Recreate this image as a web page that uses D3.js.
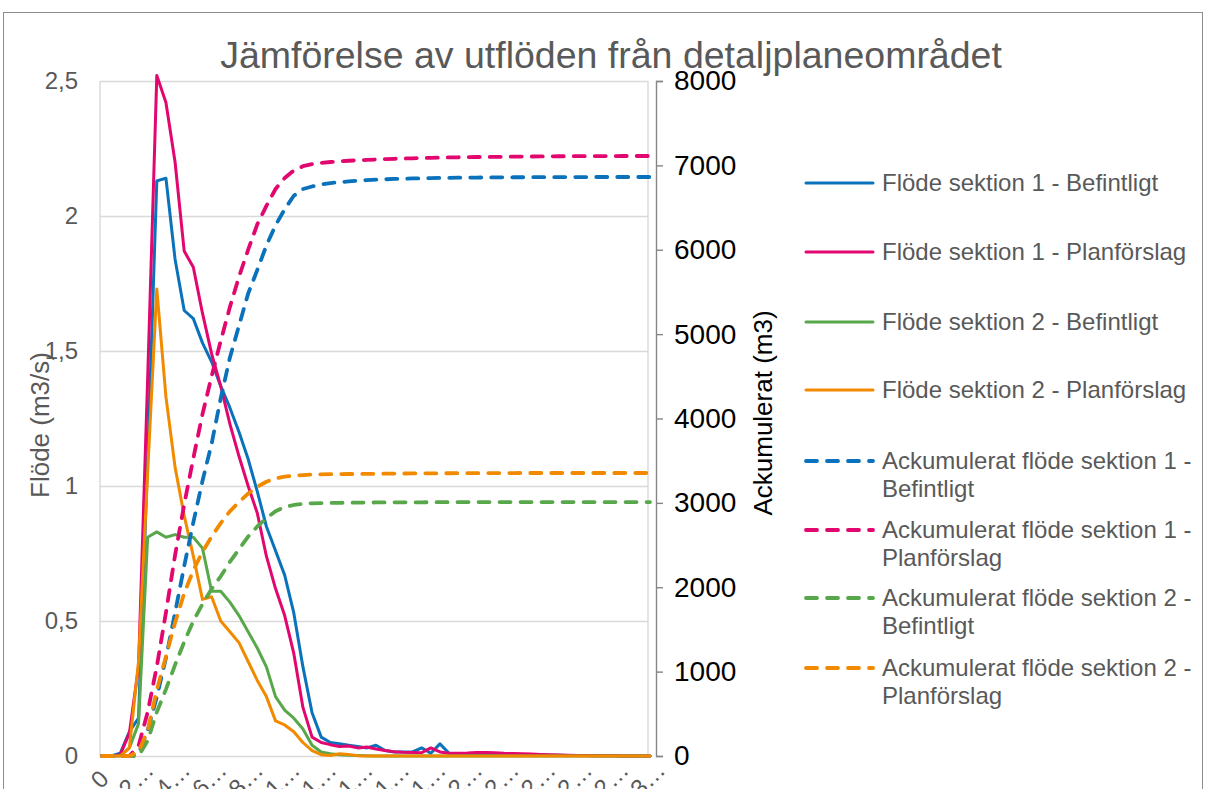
<!DOCTYPE html>
<html>
<head>
<meta charset="utf-8">
<script src="https://cdn.jsdelivr.net/npm/d3@7"></script>
<style>
  body { margin: 0; background: #fff; }
  svg { display: block; font-family: "Liberation Sans", Arial, sans-serif; }
</style>
</head>
<body>
<div id="chart"></div>
<script>
// x categories (minutes) and the truncated labels the axis shows
const minutes = [0, 5, 10, 15, 20, 25, 30, 35, 40, 45, 50, 55, 60, 65, 70, 75, 80, 85, 90, 95,
  100, 105, 110, 115, 120, 125, 130, 135, 140, 145, 150, 155, 160, 165, 170, 175, 180, 185, 190, 195,
  200, 205, 210, 215, 220, 225, 230, 235, 240, 245, 250, 255, 260, 265, 270, 275, 280, 285, 290, 295, 300];
const xTickLabels = ['0', '2…', '4…', '6…', '8…', '1…', '1…', '1…', '1…', '1…', '2…', '2…', '2…', '2…', '2…', '3…'];
const leftTicks = [0, 0.5, 1, 1.5, 2, 2.5];
const rightTicks = [0, 1000, 2000, 3000, 4000, 5000, 6000, 7000, 8000];

// Flöde (m3/s)
const flowS1Bef = [0, 0, 0.01, 0.09, 0.14, 1.1, 2.13, 2.14, 1.84, 1.65,
  1.62, 1.53, 1.46, 1.37, 1.29, 1.2, 1.1, 0.98, 0.85, 0.76,
  0.67, 0.53, 0.33, 0.16, 0.07, 0.05, 0.045, 0.04, 0.035, 0.03,
  0.04, 0.02, 0.015, 0.015, 0.015, 0.03, 0.01, 0.045, 0.01, 0.008,
  0.008, 0.007, 0.007, 0.006, 0.006, 0.005, 0.005, 0.004, 0.004, 0.003,
  0.003, 0.002, 0.002, 0.002, 0.001, 0.001, 0.001, 0, 0, 0, 0];
const flowS1Plan = [0, 0, 0.005, 0.085, 0.33, 1.4, 2.52, 2.42, 2.2, 1.87,
  1.81, 1.64, 1.49, 1.37, 1.23, 1.11, 1.0, 0.9, 0.74, 0.62,
  0.52, 0.38, 0.18, 0.07, 0.05, 0.042, 0.035, 0.037, 0.03, 0.033,
  0.026, 0.02, 0.016, 0.014, 0.013, 0.012, 0.03, 0.015, 0.01, 0.01,
  0.011, 0.013, 0.013, 0.012, 0.01, 0.009, 0.008, 0.007, 0.006, 0.005,
  0.004, 0.003, 0.002, 0.002, 0.001, 0.001, 0.001, 0, 0, 0, 0];
const flowS2Bef = [0, 0, 0, 0.03, 0.12, 0.81, 0.83, 0.81, 0.82, 0.81,
  0.81, 0.77, 0.61, 0.61, 0.57, 0.52, 0.46, 0.4, 0.33, 0.22,
  0.17, 0.14, 0.1, 0.04, 0.015, 0.008, 0.005, 0.003, 0.002, 0.001,
  0, 0, 0, 0, 0, 0, 0, 0, 0, 0,
  0, 0, 0, 0, 0, 0, 0, 0, 0, 0,
  0, 0, 0, 0, 0, 0, 0, 0, 0, 0, 0];
const flowS2Plan = [0, 0, 0, 0.03, 0.35, 1.05, 1.73, 1.33, 1.07, 0.89,
  0.74, 0.58, 0.59, 0.5, 0.46, 0.42, 0.35, 0.28, 0.22, 0.13,
  0.115, 0.09, 0.05, 0.02, 0.005, 0.002, 0.008, 0.006, 0.001, 0,
  0, 0, 0, 0, 0, 0, 0, 0, 0, 0,
  0, 0, 0, 0, 0, 0, 0, 0, 0, 0,
  0, 0, 0, 0, 0, 0, 0, 0, 0, 0, 0];

// Ackumulerat (m3)
const accS1Bef = [0, 0, 0, 0, 30, 300, 700, 1160, 1700, 2250,
  2770, 3260, 3700, 4240, 4720, 5100, 5480, 5760, 6050, 6290,
  6480, 6640, 6720, 6750, 6775, 6790, 6800, 6810, 6818, 6825,
  6830, 6835, 6839, 6842, 6845, 6847, 6849, 6851, 6853, 6854,
  6855, 6856, 6857, 6858, 6858, 6859, 6859, 6860, 6860, 6860,
  6861, 6861, 6861, 6861, 6862, 6862, 6862, 6862, 6862, 6862, 6862];
const accS1Plan = [0, 0, 0, 0, 120, 520, 1060, 1700, 2380, 2980,
  3530, 4050, 4500, 4920, 5320, 5680, 6000, 6300, 6520, 6720,
  6850, 6940, 6990, 7015, 7030, 7040, 7048, 7055, 7060, 7065,
  7070, 7074, 7078, 7081, 7084, 7087, 7090, 7092, 7094, 7096,
  7098, 7099, 7100, 7101, 7102, 7103, 7104, 7105, 7106, 7107,
  7108, 7108, 7109, 7109, 7110, 7110, 7110, 7111, 7111, 7111, 7111];
const accS2Bef = [0, 0, 0, 0, 0, 180, 520, 790, 1080, 1350,
  1600, 1800, 1980, 2130, 2300, 2450, 2600, 2720, 2820, 2900,
  2950, 2975, 2990, 2995, 2998, 3000, 3001, 3002, 3003, 3004,
  3005, 3005, 3006, 3006, 3007, 3007, 3008, 3008, 3008, 3009,
  3009, 3009, 3009, 3010, 3010, 3010, 3010, 3010, 3010, 3010,
  3010, 3010, 3010, 3010, 3010, 3010, 3010, 3010, 3010, 3010, 3010];
const accS2Plan = [0, 0, 0, 0, 50, 300, 780, 1180, 1580, 1930,
  2200, 2420, 2600, 2760, 2900, 3010, 3110, 3190, 3250, 3290,
  3310, 3322, 3330, 3335, 3338, 3340, 3341, 3342, 3343, 3344,
  3345, 3346, 3347, 3348, 3349, 3350, 3350, 3351, 3351, 3352,
  3352, 3352, 3353, 3353, 3353, 3353, 3354, 3354, 3354, 3354,
  3354, 3354, 3354, 3354, 3354, 3354, 3354, 3354, 3354, 3354, 3354];

const seriesNames = [
  'Flöde sektion 1 - Befintligt',
  'Flöde sektion 1 - Planförslag',
  'Flöde sektion 2 - Befintligt',
  'Flöde sektion 2 - Planförslag',
  'Ackumulerat flöde sektion 1 - Befintligt',
  'Ackumulerat flöde sektion 1 - Planförslag',
  'Ackumulerat flöde sektion 2 - Befintligt',
  'Ackumulerat flöde sektion 2 - Planförslag'
];
const colors = ['#0a72ba', '#e2066f', '#58a84b', '#f28a00'];

const series = [
  { name: seriesNames[0], values: flowS1Bef, color: colors[0], axis: 'left' },
  { name: seriesNames[1], values: flowS1Plan, color: colors[1], axis: 'left' },
  { name: seriesNames[2], values: flowS2Bef, color: colors[2], axis: 'left' },
  { name: seriesNames[3], values: flowS2Plan, color: colors[3], axis: 'left' },
  { name: seriesNames[4], values: accS1Bef, color: colors[0], axis: 'right' },
  { name: seriesNames[5], values: accS1Plan, color: colors[1], axis: 'right' },
  { name: seriesNames[6], values: accS2Bef, color: colors[2], axis: 'right' },
  { name: seriesNames[7], values: accS2Plan, color: colors[3], axis: 'right' }
];

const W = 1206, H = 789;
const plot = { left: 100, right: 648, top: 81, bottom: 756 };
const textGray = '#595959';
const gridGray = '#d9d9d9';
const dash = '11,10';

const svg = d3.select('#chart')
  .append('svg')
  .attr('width', W)
  .attr('height', H);

// chart border
svg.append('rect')
  .attr('x', 3.5).attr('y', 12.5)
  .attr('width', 1199).attr('height', 800)
  .attr('fill', 'none')
  .attr('stroke', '#8c8c8c')
  .attr('stroke-width', 1);

// scales
const x = d3.scalePoint().domain(minutes).range([102, 650]);
const yL = d3.scaleLinear().domain([0, 2.5]).range([plot.bottom, plot.top]);
const yR = d3.scaleLinear().domain([0, 8000]).range([plot.bottom, plot.top]);

// horizontal gridlines + left labels
const gl = svg.append('g')
  .attr('transform', `translate(${plot.left},0)`)
  .call(d3.axisLeft(yL)
    .tickValues(leftTicks)
    .tickSize(-(plot.right - plot.left))
    .tickPadding(22)
    .tickFormat(d => String(d).replace('.', ',')));
gl.select('.domain').remove();
gl.selectAll('.tick line').attr('stroke', gridGray).attr('stroke-width', 1.4);
gl.selectAll('.tick text')
  .attr('fill', textGray)
  .style('font-size', '24px');

// vertical plot edges
svg.append('g').selectAll('line')
  .data([plot.left, plot.right])
  .join('line')
  .attr('x1', d => d).attr('x2', d => d)
  .attr('y1', plot.top).attr('y2', plot.bottom)
  .attr('stroke', gridGray)
  .attr('stroke-width', 1.4);

// bottom axis with rotated, truncated labels
const tickMinutes = minutes.filter((d, i) => i % 4 === 0);
const gx = svg.append('g')
  .attr('transform', `translate(0,${plot.bottom})`)
  .call(d3.axisBottom(x).tickValues(tickMinutes).tickSize(0)
    .tickFormat((d, i) => xTickLabels[i]));
gx.select('.domain').remove();
gx.selectAll('.tick text')
  .attr('fill', textGray)
  .style('font-size', '24px')
  .attr('text-anchor', 'middle')
  .attr('dy', null)
  .attr('y', 0)
  .attr('transform', 'translate(3,29) rotate(-45)');

// right axis
const gr = svg.append('g')
  .attr('transform', `translate(656,0)`)
  .call(d3.axisRight(yR).tickValues(rightTicks).tickSize(7).tickPadding(11)
    .tickFormat(d => String(d)));
gr.select('.domain').attr('stroke', '#868686').attr('stroke-width', 1.4);
gr.selectAll('.tick line').attr('stroke', '#868686').attr('stroke-width', 1.4);
gr.selectAll('.tick text')
  .attr('fill', '#000')
  .style('font-size', '28px');

// lines
const lineL = d3.line().x((d, i) => x(minutes[i])).y(d => yL(d));
const lineR = d3.line().x((d, i) => x(minutes[i])).y(d => yR(d));

svg.append('g').selectAll('path')
  .data(series)
  .join('path')
  .attr('fill', 'none')
  .attr('stroke', d => d.color)
  .attr('stroke-width', d => d.axis === 'left' ? 3 : 3.8)
  .attr('stroke-linejoin', 'round')
  .attr('stroke-linecap', 'round')
  .attr('stroke-dasharray', d => d.axis === 'right' ? dash : null)
  .attr('d', d => d.axis === 'left' ? lineL(d.values) : lineR(d.values));

// title
svg.append('text')
  .attr('x', 611)
  .attr('y', 68)
  .attr('text-anchor', 'middle')
  .attr('fill', textGray)
  .style('font-size', '37.5px')
  .text('Jämförelse av utflöden från detaljplaneområdet');

// axis titles
svg.append('text')
  .attr('transform', 'translate(49,425) rotate(-90)')
  .attr('text-anchor', 'middle')
  .attr('fill', textGray)
  .style('font-size', '26px')
  .text('Flöde (m3/s)');

svg.append('text')
  .attr('transform', 'translate(772,413) rotate(-90)')
  .attr('text-anchor', 'middle')
  .attr('fill', '#000')
  .style('font-size', '26px')
  .text('Ackumulerat (m3)');

// legend
const legendRows = [
  { y: 183, lines: [seriesNames[0]] },
  { y: 252, lines: [seriesNames[1]] },
  { y: 322, lines: [seriesNames[2]] },
  { y: 390, lines: [seriesNames[3]] },
  { y: 461, lines: ['Ackumulerat flöde sektion 1 -', 'Befintligt'] },
  { y: 530, lines: ['Ackumulerat flöde sektion 1 -', 'Planförslag'] },
  { y: 598, lines: ['Ackumulerat flöde sektion 2 -', 'Befintligt'] },
  { y: 668, lines: ['Ackumulerat flöde sektion 2 -', 'Planförslag'] }
];

const legend = svg.append('g')
  .selectAll('g')
  .data(series)
  .join('g')
  .attr('transform', (d, i) => `translate(0,${legendRows[i].y})`);

legend.append('line')
  .attr('x1', 806).attr('x2', 873)
  .attr('y1', 0).attr('y2', 0)
  .attr('stroke', d => d.color)
  .attr('stroke-width', d => d.axis === 'left' ? 3 : 3.8)
  .attr('stroke-linecap', 'round')
  .attr('stroke-dasharray', d => d.axis === 'right' ? dash : null);

legend.append('text')
  .attr('x', 882)
  .attr('fill', textGray)
  .style('font-size', '24px')
  .selectAll('tspan')
  .data((d, i) => legendRows[i].lines)
  .join('tspan')
  .attr('x', 882)
  .attr('y', (d, i) => i * 27.5)
  .attr('dy', '0.35em')
  .text(d => d);
</script>
</body>
</html>
